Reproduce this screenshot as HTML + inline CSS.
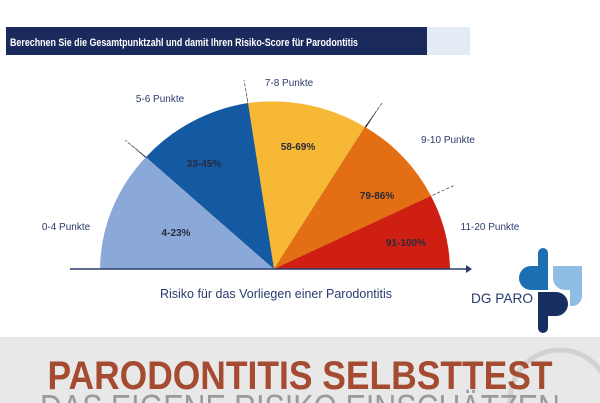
<!DOCTYPE html>
<html><head><meta charset="utf-8"><style>
body{margin:0;width:600px;height:403px;overflow:hidden;background:#fff;font-family:"Liberation Sans",sans-serif;position:relative}
svg{overflow:hidden}
</style></head><body>
<svg width="600" height="403" style="position:absolute;left:0;top:0">
<rect x="427" y="27" width="43" height="28" fill="#e3ebf4"/>
<rect x="6" y="27" width="421" height="28" fill="#1b2a5c"/>
<text x="10" y="46" font-size="11" font-weight="bold" fill="#fff" textLength="348" lengthAdjust="spacingAndGlyphs">Berechnen Sie die Gesamtpunktzahl und damit Ihren Risiko-Score für Parodontitis</text>
<g stroke="#555" stroke-width="0.8" stroke-dasharray="3,2">
<path d="M274 269L146 157L125 140"/>
<path d="M274 269L248 103L244 80"/>
<path d="M274 269L365 127L382 103"/>
<path d="M274 269L431 196L455 185"/>
</g>
<path d="M274 269L100 269A175 168 0 0 1 146 157Z" fill="#8aa9d8"/>
<path d="M274 269L146 157A175 168 0 0 1 248 103Z" fill="#145aa3"/>
<path d="M274 269L248 103A175 168 0 0 1 365 127Z" fill="#f7b836"/>
<path d="M274 269L365 127A175 168 0 0 1 431 196Z" fill="#e36e14"/>
<path d="M274 269L431 196A175 168 0 0 1 450 269Z" fill="#cf1f12"/>
<g font-size="10" font-weight="bold" fill="#2a2a3a" text-anchor="middle">
<text x="176" y="236">4-23%</text><text x="204" y="167">33-45%</text><text x="298" y="150">58-69%</text><text x="377" y="199">79-86%</text><text x="406" y="246">91-100%</text>
</g>
<g font-size="10" fill="#2a3b6e" text-anchor="middle">
<text x="66" y="230">0-4 Punkte</text><text x="160" y="102">5-6 Punkte</text><text x="289" y="86">7-8 Punkte</text><text x="448" y="143">9-10 Punkte</text><text x="490" y="230">11-20 Punkte</text>
</g>
<line x1="70" y1="269" x2="466" y2="269" stroke="#2a3b6e" stroke-width="1.5"/>
<path d="M466 265L472 269L466 273Z" fill="#2a3b6e"/>
<text x="276" y="298" font-size="12.5" fill="#2a3b6e" text-anchor="middle">Risiko für das Vorliegen einer Parodontitis</text>
<text x="471" y="303" font-size="14" fill="#2a3b6e" textLength="62" lengthAdjust="spacingAndGlyphs">DG PARO</text>
<path d="M538 253a5 5 0 0 1 10 0V290H538Z" fill="#1d6fb3"/>
<path d="M538 266V290H531a12 12 0 0 1 0-24Z" fill="#1d6fb3"/>
<path d="M553 266H582V296a10 10 0 0 1-10 10H570V290H565a12 12 0 0 1-12-12Z" fill="#8fbde3"/>
<path d="M538 292H548V328a5 5 0 0 1-10 0Z" fill="#172e63"/>
<path d="M548 292H556a12 12 0 0 1 0 24H548Z" fill="#172e63"/>
<rect x="0" y="337" width="600" height="66" fill="#e8e8e8"/>
<circle cx="560" cy="400" r="50" fill="none" stroke="#d2d2d2" stroke-width="5"/>
<text x="300" y="389" font-size="40" font-weight="bold" fill="#a54b31" text-anchor="middle" textLength="505" lengthAdjust="spacingAndGlyphs">PARODONTITIS SELBSTTEST</text>
<text x="300" y="420" font-size="36" fill="#9a9a9a" text-anchor="middle" textLength="520" lengthAdjust="spacingAndGlyphs">DAS EIGENE RISIKO EINSCHÄTZEN</text>
</svg>
</body></html>
